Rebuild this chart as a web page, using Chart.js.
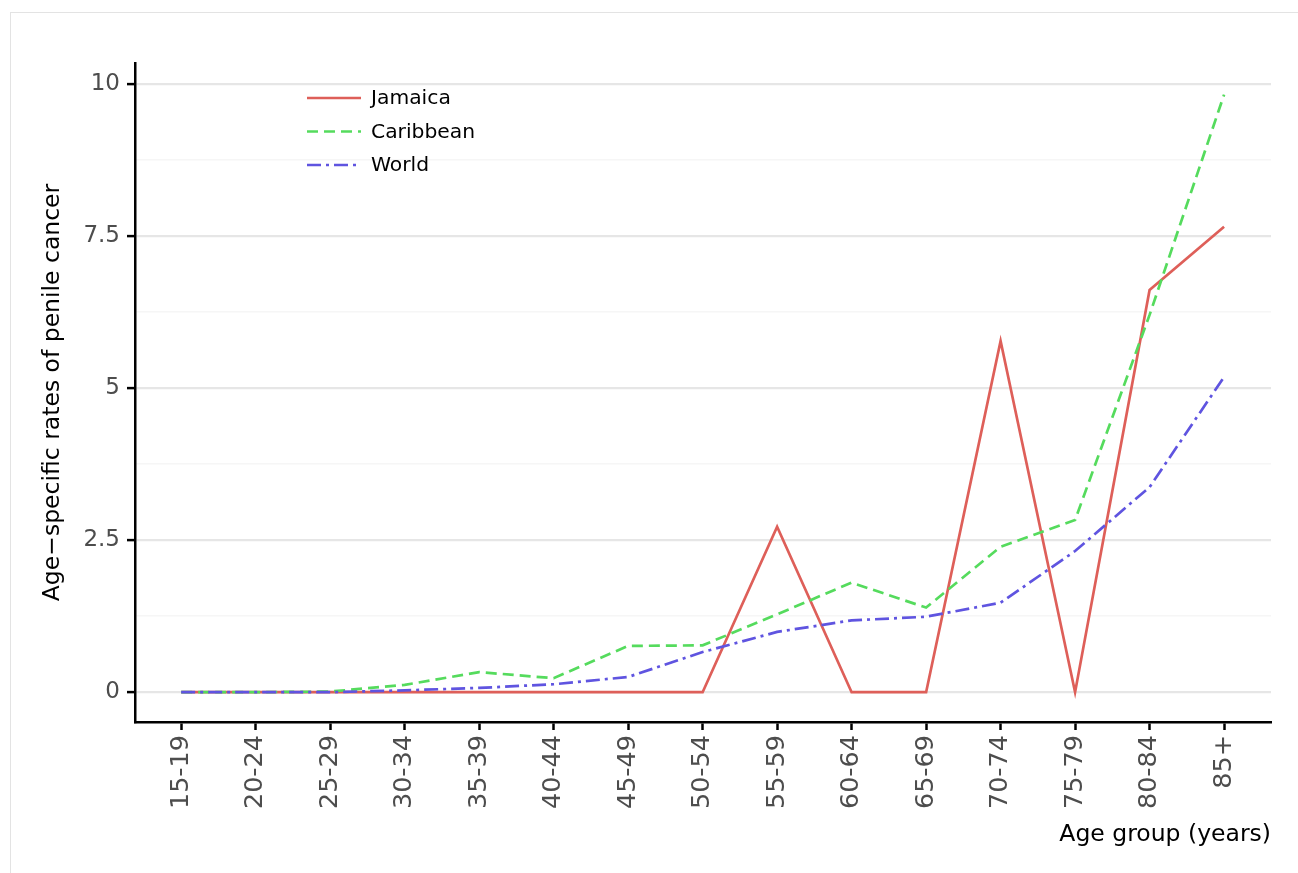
<!DOCTYPE html>
<html>
<head>
<meta charset="utf-8">
<script src="https://cdn.jsdelivr.net/npm/chart.js@4.4.1/dist/chart.umd.min.js"></script>
<style>
  html, body { margin: 0; padding: 0; background: #ffffff; overflow: hidden; }
  #frame { position: absolute; left: 10px; top: 12px; width: 1400px; height: 1000px; border: 1px solid #e3e3e3; box-sizing: border-box; }
  #wrap { position: absolute; left: 0; top: 0; width: 1298px; height: 873px; }
</style>
</head>
<body>
<div id="frame"></div>
<div id="wrap"><canvas id="c" width="1298" height="873"></canvas></div>
<script>
const ageGroups = ["15-19","20-24","25-29","30-34","35-39","40-44","45-49","50-54","55-59","60-64","65-69","70-74","75-79","80-84","85+"];
const jamaica   = [0, 0, 0, 0, 0, 0, 0, 0, 2.72, 0, 0, 5.77, 0, 6.61, 7.65];
const caribbean = [0, 0, 0.01, 0.12, 0.33, 0.23, 0.76, 0.77, 1.28, 1.80, 1.39, 2.39, 2.83, 6.20, 9.82];
const world     = [0, 0, 0, 0.03, 0.07, 0.13, 0.25, 0.66, 0.99, 1.18, 1.24, 1.47, 2.32, 3.37, 5.18];
const yMajorTicks = [0, 2.5, 5, 7.5, 10];
const yMinorTicks = [1.25, 3.75, 6.25, 8.75];
const yTickLabels = ["0", "2.5", "5", "7.5", "10"];
const seriesNames = ["Jamaica", "Caribbean", "World"];

const colors = { Jamaica: "#de5f59", Caribbean: "#55db5d", World: "#5f54e0" };
const dashes = { Jamaica: [], Caribbean: [11, 6], World: [14, 5, 3, 5] };

function pts(arr) { return arr.map((v, i) => ({ x: i, y: v })); }

const seriesData = [jamaica, caribbean, world];
const datasets = seriesNames.map((name, k) => ({
  label: name,
  data: pts(seriesData[k]),
  borderColor: colors[name],
  backgroundColor: colors[name],
  borderWidth: 2.7,
  borderDash: dashes[name],
  pointRadius: 0,
  tension: 0,
  fill: false,
  order: 3 - k
}));

const FONT = "'DejaVu Sans', sans-serif";

const legendPlugin = {
  id: 'customLegend',
  afterDraw(chart) {
    const ctx = chart.ctx;
    const x0 = 307, x1 = 361, tx = 371;
    const ys = [98, 131.5, 165];
    ctx.save();
    seriesNames.forEach((name, i) => {
      const y = ys[i];
      ctx.strokeStyle = colors[name];
      ctx.lineWidth = 2.7;
      ctx.setLineDash(dashes[name]);
      ctx.beginPath();
      ctx.moveTo(x0, y);
      ctx.lineTo(x1, y);
      ctx.stroke();
      ctx.setLineDash([]);
      ctx.fillStyle = "#000000";
      ctx.font = "20.3px " + FONT;
      ctx.textBaseline = "middle";
      ctx.textAlign = "left";
      ctx.fillText(name, tx, y + 1);
    });
    ctx.restore();
  }
};

const isMajor = v => yMajorTicks.some(t => Math.abs(t - v) < 1e-9);

new Chart(document.getElementById('c'), {
  type: 'line',
  data: { datasets },
  options: {
    responsive: false,
    animation: false,
    devicePixelRatio: 1,
    layout: { padding: { left: 39, top: 63, right: 27, bottom: 24 } },
    plugins: { legend: { display: false }, tooltip: { enabled: false }, title: { display: false } },
    scales: {
      x: {
        type: 'linear',
        min: -0.62,
        max: 14.63,
        afterBuildTicks: s => { s.ticks = ageGroups.map((_, i) => ({ value: i })); },
        afterFit: s => { s.height = 127; },
        grid: { drawOnChartArea: false, color: '#000000', tickColor: '#000000', tickLength: 8, tickWidth: 2.5 },
        border: { display: true, color: '#000000', width: 2.5 },
        ticks: {
          autoSkip: false,
          minRotation: 90,
          maxRotation: 90,
          padding: 5,
          color: '#4d4d4d',
          font: { family: FONT, size: 25.5 },
          callback: v => ageGroups[v] ?? ''
        },
        title: {
          display: true,
          text: 'Age group (years)',
          align: 'end',
          color: '#000000',
          padding: 0,
          font: { family: FONT, size: 23.5, lineHeight: 1.2 }
        }
      },
      y: {
        type: 'linear',
        min: -0.49,
        max: 10.34,
        afterBuildTicks: s => { s.ticks = yMajorTicks.concat(yMinorTicks).sort((a, b) => a - b).map(v => ({ value: v })); },
        afterFit: s => { s.width = 96; },
        grid: {
          color: c => isMajor(c.tick.value) ? '#e6e6e6' : '#f6f6f6',
          lineWidth: c => isMajor(c.tick.value) ? 2.2 : 1.6,
          tickColor: c => isMajor(c.tick.value) ? '#000000' : 'rgba(0,0,0,0)',
          tickLength: 8,
          tickWidth: 2.5
        },
        border: { display: true, color: '#000000', width: 2.5 },
        ticks: {
          autoSkip: false,
          padding: 7,
          color: '#4d4d4d',
          font: { family: FONT, size: 23 },
          callback: v => { const i = yMajorTicks.findIndex(t => Math.abs(t - v) < 1e-9); return i >= 0 ? yTickLabels[i] : ''; }
        },
        title: {
          display: true,
          text: 'Age\u2212specific rates of penile cancer',
          color: '#000000',
          padding: 0,
          font: { family: FONT, size: 23.5, lineHeight: 1.2 }
        }
      }
    }
  },
  plugins: [legendPlugin]
});
</script>
</body>
</html>
